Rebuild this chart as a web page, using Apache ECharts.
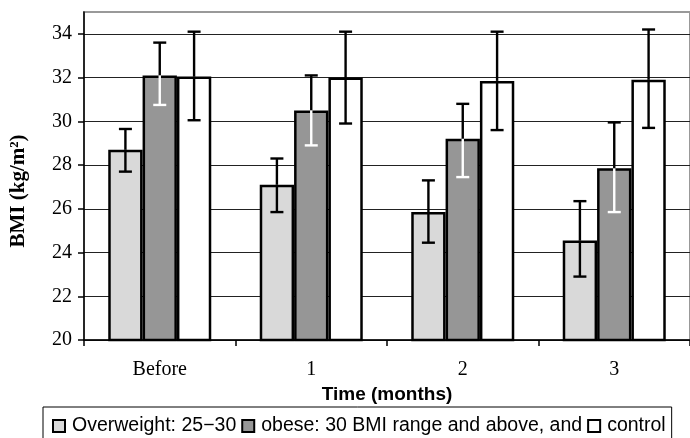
<!DOCTYPE html>
<html>
<head>
<meta charset="utf-8">
<script src="https://cdn.jsdelivr.net/npm/echarts@6/dist/echarts.min.js"></script>
<style>html,body{margin:0;padding:0;background:#fff}#c{width:690px;height:438px}</style>
</head>
<body>
<div id="c"></div>
<script>
const categories = ['Before', '1', '2', '3'];
const seriesNames = ['Overweight: 25\u221230', 'obese: 30 BMI range and above, and', 'control'];
const overweightMean = [28.7, 27.1, 25.85, 24.55];
const overweightLow = [27.7, 25.85, 24.45, 22.9];
const overweightHigh = [29.65, 28.3, 27.3, 26.35];
const obeseMean = [32.1, 30.5, 29.2, 27.85];
const obeseLow = [30.75, 28.9, 27.45, 25.85];
const obeseHigh = [33.6, 32.1, 30.8, 29.95];
const controlMean = [32.05, 32.0, 31.85, 31.9];
const controlLow = [30.05, 29.9, 29.6, 29.7];
const controlHigh = [34.1, 34.1, 34.1, 34.2];
const yMin = 20, yMax = 35, yStep = 2;

const colors = ['#d9d9d9', '#969696', '#ffffff'];
const means = [overweightMean, obeseMean, controlMean];
const lows = [overweightLow, obeseLow, controlLow];
const highs = [overweightHigh, obeseHigh, controlHigh];
const GAP = 0.32;

function errSeries(k) {
  const data = categories.map((c, i) => [i, lows[k][i], highs[k][i], means[k][i]]);
  return {
    type: 'custom',
    z: 10,
    silent: true,
    data: data,
    encode: { x: 0, y: [1, 2] },
    renderItem: function (params, api) {
      const cat = api.value(0);
      const band = api.size([1, 0])[0];
      const bw = band * (1 - GAP) / 3;
      const pLow = api.coord([cat, api.value(1)]);
      const pHigh = api.coord([cat, api.value(2)]);
      const pMean = api.coord([cat, api.value(3)]);
      const x = pLow[0] + (k - 1) * bw;
      const cap = 6.5;
      const lowColor = k === 1 ? '#ffffff' : '#000000';
      const st = (c) => ({ stroke: c, lineWidth: 2.4 });
      return {
        type: 'group',
        children: [
          { type: 'line', shape: { x1: x, y1: pHigh[1], x2: x, y2: pMean[1] }, style: st('#000') },
          { type: 'line', shape: { x1: x, y1: pMean[1], x2: x, y2: pLow[1] }, style: st(lowColor) },
          { type: 'line', shape: { x1: x - cap, y1: pHigh[1], x2: x + cap, y2: pHigh[1] }, style: st('#000') },
          { type: 'line', shape: { x1: x - cap, y1: pLow[1], x2: x + cap, y2: pLow[1] }, style: st(lowColor) }
        ]
      };
    }
  };
}

const barSeries = seriesNames.map((name, k) => ({
  name: name,
  type: 'bar',
  data: means[k],
  barGap: '0%',
  barCategoryGap: (GAP * 100) + '%',
  itemStyle: { color: colors[k], borderColor: '#000', borderWidth: 2.5 },
  emphasis: { disabled: true }
}));

const chart = echarts.init(document.getElementById('c'), null, { renderer: 'canvas' });
chart.setOption({
  animation: false,
  backgroundColor: '#fff',
  grid: { left: 84, top: 12, width: 608, height: 328, show: true, borderColor: '#999', borderWidth: 2, backgroundColor: 'transparent' },
  legend: {
    data: seriesNames,
    left: 43, top: 407,
    padding: [9, 6, 10, 9],
    itemGap: 5,
    itemWidth: 12, itemHeight: 12,
    icon: 'rect',
    borderColor: '#000', borderWidth: 1,
    backgroundColor: '#fff',
    itemStyle: { borderColor: '#000', borderWidth: 2 },
    textStyle: { fontFamily: 'Liberation Sans', fontSize: 19.5, color: '#000', padding: [0, 0, 0, 2] },
    selectedMode: false
  },
  xAxis: {
    type: 'category',
    data: categories,
    name: 'Time (months)',
    nameLocation: 'middle',
    nameGap: 41,
    nameTextStyle: { fontFamily: 'Liberation Sans', fontWeight: 'bold', fontSize: 19, color: '#000' },
    axisLine: { lineStyle: { color: '#000', width: 1.5 } },
    axisTick: { show: true, length: 6, lineStyle: { color: '#000', width: 1.5 } },
    axisLabel: { fontFamily: 'Liberation Serif', fontSize: 20, color: '#000', margin: 20 }
  },
  yAxis: {
    type: 'value',
    min: yMin, max: yMax, interval: yStep,
    name: 'BMI (kg/m\u00b2)',
    nameLocation: 'middle',
    nameGap: 55,
    nameTextStyle: { fontFamily: 'Liberation Serif', fontWeight: 'bold', fontSize: 21, color: '#000', padding: [0, 30, 0, 0] },
    axisLine: { show: true, lineStyle: { color: '#000', width: 1.5 } },
    axisTick: { show: true, length: 6, lineStyle: { color: '#000', width: 1.5 } },
    axisLabel: { fontFamily: 'Liberation Serif', fontSize: 20, color: '#000', margin: 12, showMaxLabel: false },
    splitLine: { show: true, showMaxLine: false, lineStyle: { color: '#222', width: 1.2 } }
  },
  series: barSeries.concat([errSeries(0), errSeries(1), errSeries(2)])
});
</script>
</body>
</html>
